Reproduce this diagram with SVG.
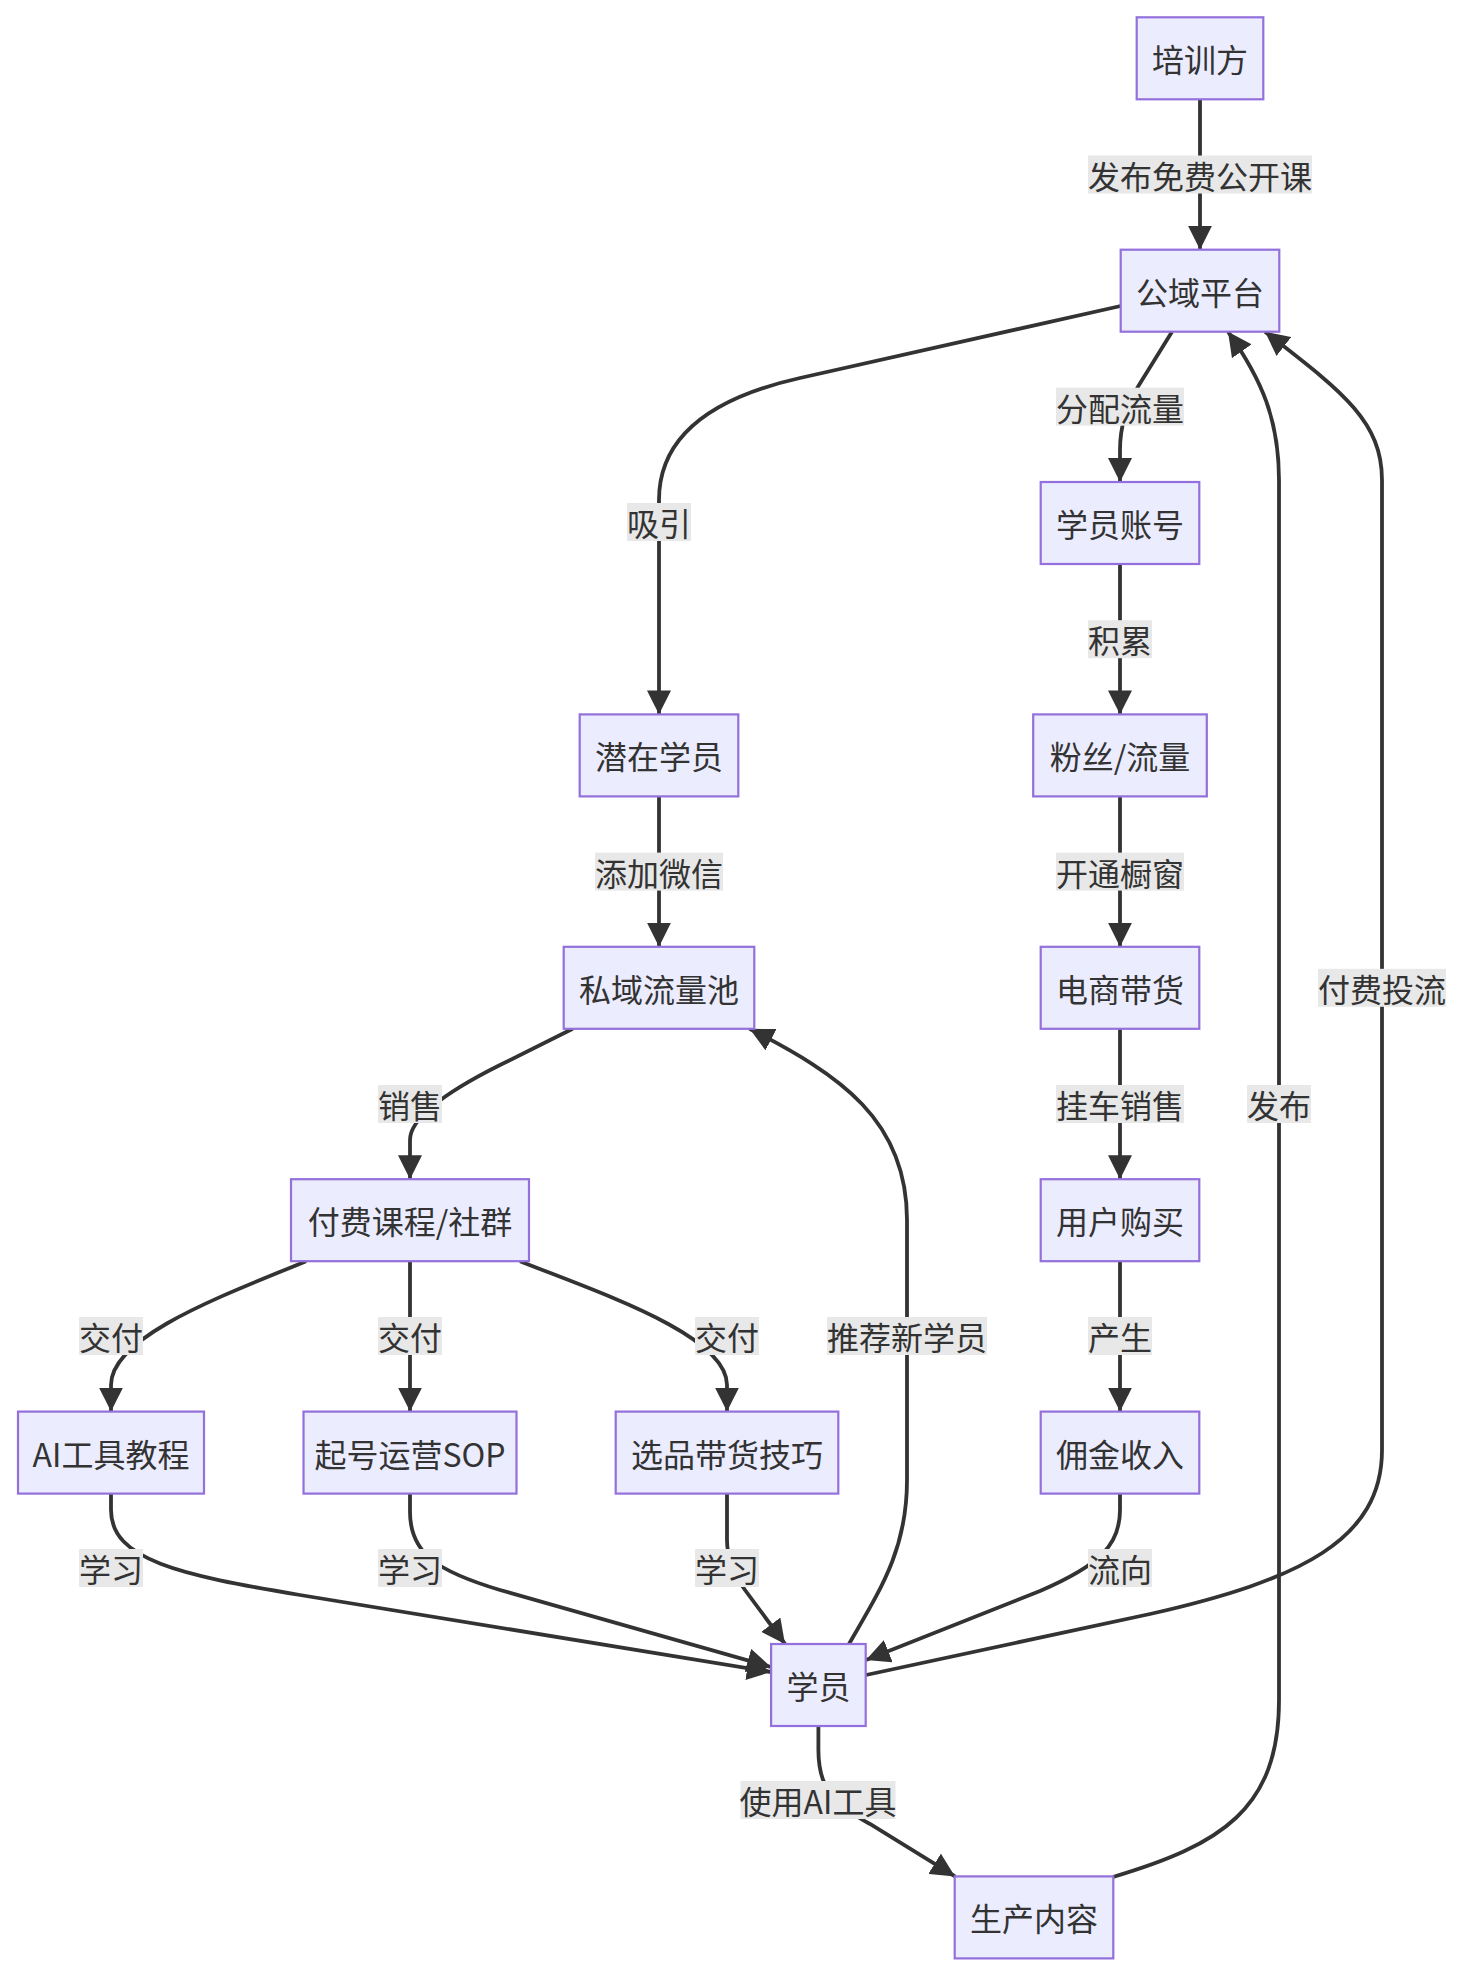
<svg xmlns="http://www.w3.org/2000/svg" width="1464" height="1974" viewBox="0 0 1464 1974">
<style>
.node rect{fill:#ECECFF;stroke:#9370DB;stroke-width:2.2px;}
.node text,.lbl text{font-family:"Noto Sans CJK SC","Noto Sans",sans-serif;font-size:32px;fill:#333;text-anchor:middle;dominant-baseline:central;}
.edge{fill:none;stroke:#333;stroke-width:3.8px;marker-end:url(#arrow);}
.lbl rect{fill:#e8e8e8;}
</style>
<defs>
<marker id="arrow" viewBox="0 0 10 10" refX="10" refY="5" markerWidth="24" markerHeight="24" markerUnits="userSpaceOnUse" orient="auto">
<path d="M0,0 L10,5 L0,10 z" fill="#333"/>
</marker>
</defs>
<rect x="0" y="0" width="1464" height="1974" fill="#ffffff"/>
<g id="connectors">
<path class="edge" d="M1200,99.3 L1200,249.7"/>
<path class="edge" d="M1120.7,306 L800,378 Q659,409.6 659,500 L659,714.4"/>
<path class="edge" d="M1172,331.7 L1139,385 Q1120,415.6 1120,450 L1120,482"/>
<path class="edge" d="M1120,564 L1120,714.4"/>
<path class="edge" d="M659,796.4 L659,946.8"/>
<path class="edge" d="M1120,796.4 L1120,946.8"/>
<path class="edge" d="M572.7,1028.8 L500,1065 Q410,1110 410,1140 L410,1179.2"/>
<path class="edge" d="M1120,1028.8 L1120,1179.2"/>
<path class="edge" d="M306,1261.2 C230,1293 111,1335 111,1385 L111,1411.6"/>
<path class="edge" d="M410,1261.2 L410,1411.6"/>
<path class="edge" d="M520,1261.2 C600,1293 727,1335 727,1385 L727,1411.6"/>
<path class="edge" d="M1120,1261.2 L1120,1411.6"/>
<path class="edge" d="M111,1493.6 L111,1510 C111,1560 180,1575 300,1595 L771,1672"/>
<path class="edge" d="M410,1493.6 L410,1512 C410,1555 440,1572 500,1590 L771,1667"/>
<path class="edge" d="M727,1493.6 L727,1540 Q727,1565 745,1590 L785,1644"/>
<path class="edge" d="M849,1644 C880,1590 907,1550 907,1480 L907,1220 C907,1120 840,1075 749.6,1028.8"/>
<path class="edge" d="M1120,1493.6 L1120,1510 C1120,1545 1100,1565 1040,1591 L866,1660"/>
<path class="edge" d="M866,1675 L1150,1614 C1300,1580 1382,1540 1382,1450 L1382,480 C1382,420 1340,390 1265,331.7"/>
<path class="edge" d="M818.4,1726 L818.4,1750 C818.4,1790 835,1805 870,1824 L955,1876.4"/>
<path class="edge" d="M1113,1877 C1220,1845 1279,1810 1279,1700 L1279,480 C1279,420 1262,380 1228,331.7"/>
</g>
<g id="edge-labels">
<g class="lbl"><rect x="1088" y="155.5" width="224" height="38"/><text x="1200" y="174.5">发布免费公开课</text></g>
<g class="lbl"><rect x="627" y="503" width="64" height="38"/><text x="659" y="522">吸引</text></g>
<g class="lbl"><rect x="1056" y="387.7" width="128" height="38"/><text x="1120" y="406.7">分配流量</text></g>
<g class="lbl"><rect x="1088" y="620.2" width="64" height="38"/><text x="1120" y="639.2">积累</text></g>
<g class="lbl"><rect x="595" y="852.6" width="128" height="38"/><text x="659" y="871.6">添加微信</text></g>
<g class="lbl"><rect x="1056" y="852.6" width="128" height="38"/><text x="1120" y="871.6">开通橱窗</text></g>
<g class="lbl"><rect x="378" y="1085" width="64" height="38"/><text x="410" y="1104">销售</text></g>
<g class="lbl"><rect x="1056" y="1085" width="128" height="38"/><text x="1120" y="1104">挂车销售</text></g>
<g class="lbl"><rect x="1318" y="968.8" width="128" height="38"/><text x="1382" y="987.8">付费投流</text></g>
<g class="lbl"><rect x="1247" y="1085" width="64" height="38"/><text x="1279" y="1104">发布</text></g>
<g class="lbl"><rect x="79" y="1317" width="64" height="38"/><text x="111" y="1336">交付</text></g>
<g class="lbl"><rect x="378" y="1317" width="64" height="38"/><text x="410" y="1336">交付</text></g>
<g class="lbl"><rect x="695" y="1317" width="64" height="38"/><text x="727" y="1336">交付</text></g>
<g class="lbl"><rect x="1088" y="1317" width="64" height="38"/><text x="1120" y="1336">产生</text></g>
<g class="lbl"><rect x="827" y="1317" width="160" height="38"/><text x="907" y="1336">推荐新学员</text></g>
<g class="lbl"><rect x="79" y="1549" width="64" height="38"/><text x="111" y="1568">学习</text></g>
<g class="lbl"><rect x="378" y="1549" width="64" height="38"/><text x="410" y="1568">学习</text></g>
<g class="lbl"><rect x="695" y="1549" width="64" height="38"/><text x="727" y="1568">学习</text></g>
<g class="lbl"><rect x="1088" y="1549" width="64" height="38"/><text x="1120" y="1568">流向</text></g>
<g class="lbl"><rect x="740.5" y="1781" width="155" height="38"/><text x="818" y="1800">使用AI工具</text></g>
</g>
<g id="n-trainer" class="node"><rect x="1136.7" y="17.3" width="126.6" height="82"/><text x="1200" y="58.3">培训方</text></g>
<g id="n-public" class="node"><rect x="1120.7" y="249.7" width="158.6" height="82"/><text x="1200" y="290.7">公域平台</text></g>
<g id="n-account" class="node"><rect x="1040.7" y="482" width="158.6" height="82"/><text x="1120" y="523">学员账号</text></g>
<g id="n-potential" class="node"><rect x="579.7" y="714.4" width="158.6" height="82"/><text x="659" y="755.4">潜在学员</text></g>
<g id="n-fans" class="node"><rect x="1033.2" y="714.4" width="173.6" height="82"/><text x="1120" y="755.4">粉丝/流量</text></g>
<g id="n-private" class="node"><rect x="563.7" y="946.8" width="190.6" height="82"/><text x="659" y="987.8">私域流量池</text></g>
<g id="n-ecom" class="node"><rect x="1040.7" y="946.8" width="158.6" height="82"/><text x="1120" y="987.8">电商带货</text></g>
<g id="n-paid" class="node"><rect x="291" y="1179.2" width="238" height="82"/><text x="410" y="1220.2">付费课程/社群</text></g>
<g id="n-buy" class="node"><rect x="1040.7" y="1179.2" width="158.6" height="82"/><text x="1120" y="1220.2">用户购买</text></g>
<g id="n-ai" class="node"><rect x="18" y="1411.6" width="186" height="82"/><text x="111" y="1452.6">AI工具教程</text></g>
<g id="n-sop" class="node"><rect x="303.5" y="1411.6" width="213" height="82"/><text x="410" y="1452.6">起号运营SOP</text></g>
<g id="n-select" class="node"><rect x="615.7" y="1411.6" width="222.6" height="82"/><text x="727" y="1452.6">选品带货技巧</text></g>
<g id="n-commission" class="node"><rect x="1040.7" y="1411.6" width="158.6" height="82"/><text x="1120" y="1452.6">佣金收入</text></g>
<g id="n-student" class="node"><rect x="771.1" y="1644" width="94.6" height="82"/><text x="818.4" y="1685">学员</text></g>
<g id="n-content" class="node"><rect x="954.7" y="1876.4" width="158.6" height="82"/><text x="1034" y="1917.4">生产内容</text></g>
</svg>
